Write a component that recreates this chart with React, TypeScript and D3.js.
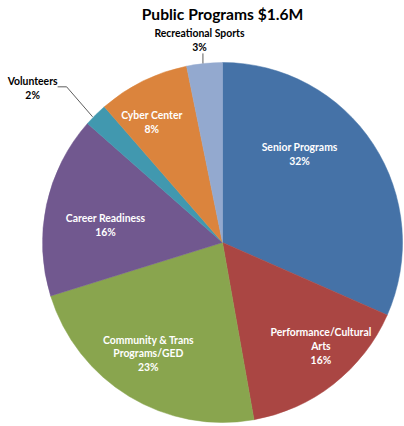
import { useEffect, useRef } from "react";
import * as d3 from "d3";

const TITLE = "Public Programs $1.6M";

const CATEGORIES = [
  "Senior Programs",
  "Performance/Cultural Arts",
  "Community & Trans Programs/GED",
  "Career Readiness",
  "Volunteers",
  "Cyber Center",
  "Recreational Sports",
];

// label text as wrapped in the chart
const LABEL_LINES = [
  ["Senior Programs"],
  ["Performance/Cultural", "Arts"],
  ["Community & Trans", "Programs/GED"],
  ["Career Readiness"],
  ["Volunteers"],
  ["Cyber Center"],
  ["Recreational Sports"],
];

// shares
const SHARES = [31.6, 15.6, 23.0, 16.3, 2.1, 8.2, 3.2];
const PCT_LABELS = ["32%", "16%", "23%", "16%", "2%", "8%", "3%"];

const COLORS = [
  "#4572a7",
  "#aa4643",
  "#89a54e",
  "#71588f",
  "#4198af",
  "#db843d",
  "#93a9cf",
];

const W = 404;
const H = 426;
const FONT = "Lato, 'Open Sans', 'DejaVu Sans', sans-serif";

export default function App() {
  const svgRef = useRef<SVGSVGElement>(null);

  useEffect(() => {
    document.body.style.margin = "0";
    if (!svgRef.current) return;

    const svg = d3.select(svgRef.current);
    svg.selectAll("*").remove();

    const cx = 222.5;
    const cy = 242.5;
    const r = 180;
    const lh = 13.8;

    svg
      .append("rect")
      .attr("width", W)
      .attr("height", H)
      .attr("fill", "#ffffff");

    svg
      .append("text")
      .attr("x", cx)
      .attr("y", 20)
      .attr("text-anchor", "middle")
      .attr("font-family", FONT)
      .attr("font-weight", 700)
      .attr("font-size", "15.6px")
      .attr("fill", "#000")
      .text(TITLE);

    const idx = d3.range(CATEGORIES.length);
    const pie = d3
      .pie<number>()
      .sort(null)
      .value((i) => SHARES[i]);
    const arcs = pie(idx);

    const arc = d3.arc<d3.PieArcDatum<number>>().innerRadius(0).outerRadius(r);
    const labelArc = d3
      .arc<d3.PieArcDatum<number>>()
      .innerRadius(r * 0.75)
      .outerRadius(r * 0.75);
    const edgeArc = d3
      .arc<d3.PieArcDatum<number>>()
      .innerRadius(r)
      .outerRadius(r);

    const g = svg.append("g").attr("transform", `translate(${cx},${cy})`);

    g.selectAll("path")
      .data(arcs)
      .join("path")
      .attr("d", arc)
      .attr("fill", (d) => COLORS[d.data])
      .attr("stroke", (d) => COLORS[d.data])
      .attr("stroke-width", 0.5);

    // inside labels, nudged the way Excel placed them
    const nudge: Record<number, [number, number]> = {
      0: [-36, -14.5],
      1: [15, -2],
      2: [-4, -4],
      3: [15, 11],
      5: [-11, 1],
    };

    const drawBlock = (
      x: number,
      y: number,
      lines: string[],
      fill: string
    ) => {
      const t = g
        .append("text")
        .attr("text-anchor", "middle")
        .attr("font-family", FONT)
        .attr("font-weight", 700)
        .attr("font-size", "10.4px")
        .attr("fill", fill);
      const n = lines.length;
      lines.forEach((s, k) => {
        t.append("tspan")
          .attr("x", x)
          .attr("y", y + (k - (n - 1) / 2) * lh + 3.6)
          .text(s);
      });
    };

    arcs.forEach((d) => {
      const i = d.data;
      const lines = [...LABEL_LINES[i], PCT_LABELS[i]];
      if (nudge[i]) {
        const [x, y] = labelArc.centroid(d);
        drawBlock(x + nudge[i][0], y + nudge[i][1], lines, "#ffffff");
        return;
      }
      const [ex, ey] = edgeArc.centroid(d);
      const leader = g
        .append("path")
        .attr("fill", "none")
        .attr("stroke", "#333")
        .attr("stroke-width", 0.8);
      if (i === 6) {
        // straight up from the rim
        leader.attr("d", d3.line()([[ex - 1.5, ey], [ex - 1.5, ey - 10]]));
        drawBlock(ex - 5, ey - 23, lines, "#000");
      } else {
        // elbow up-left, then a short run to the label
        const bx = ex - 29;
        const by = ey - 28;
        leader.attr("d", d3.line()([[ex - 3, ey + 2], [bx, by], [bx - 9, by]]));
        drawBlock(bx - 34, by + 1.5, lines, "#000");
      }
    });
  }, []);

  return <svg ref={svgRef} width={W} height={H} style={{ display: "block" }} />;
}
